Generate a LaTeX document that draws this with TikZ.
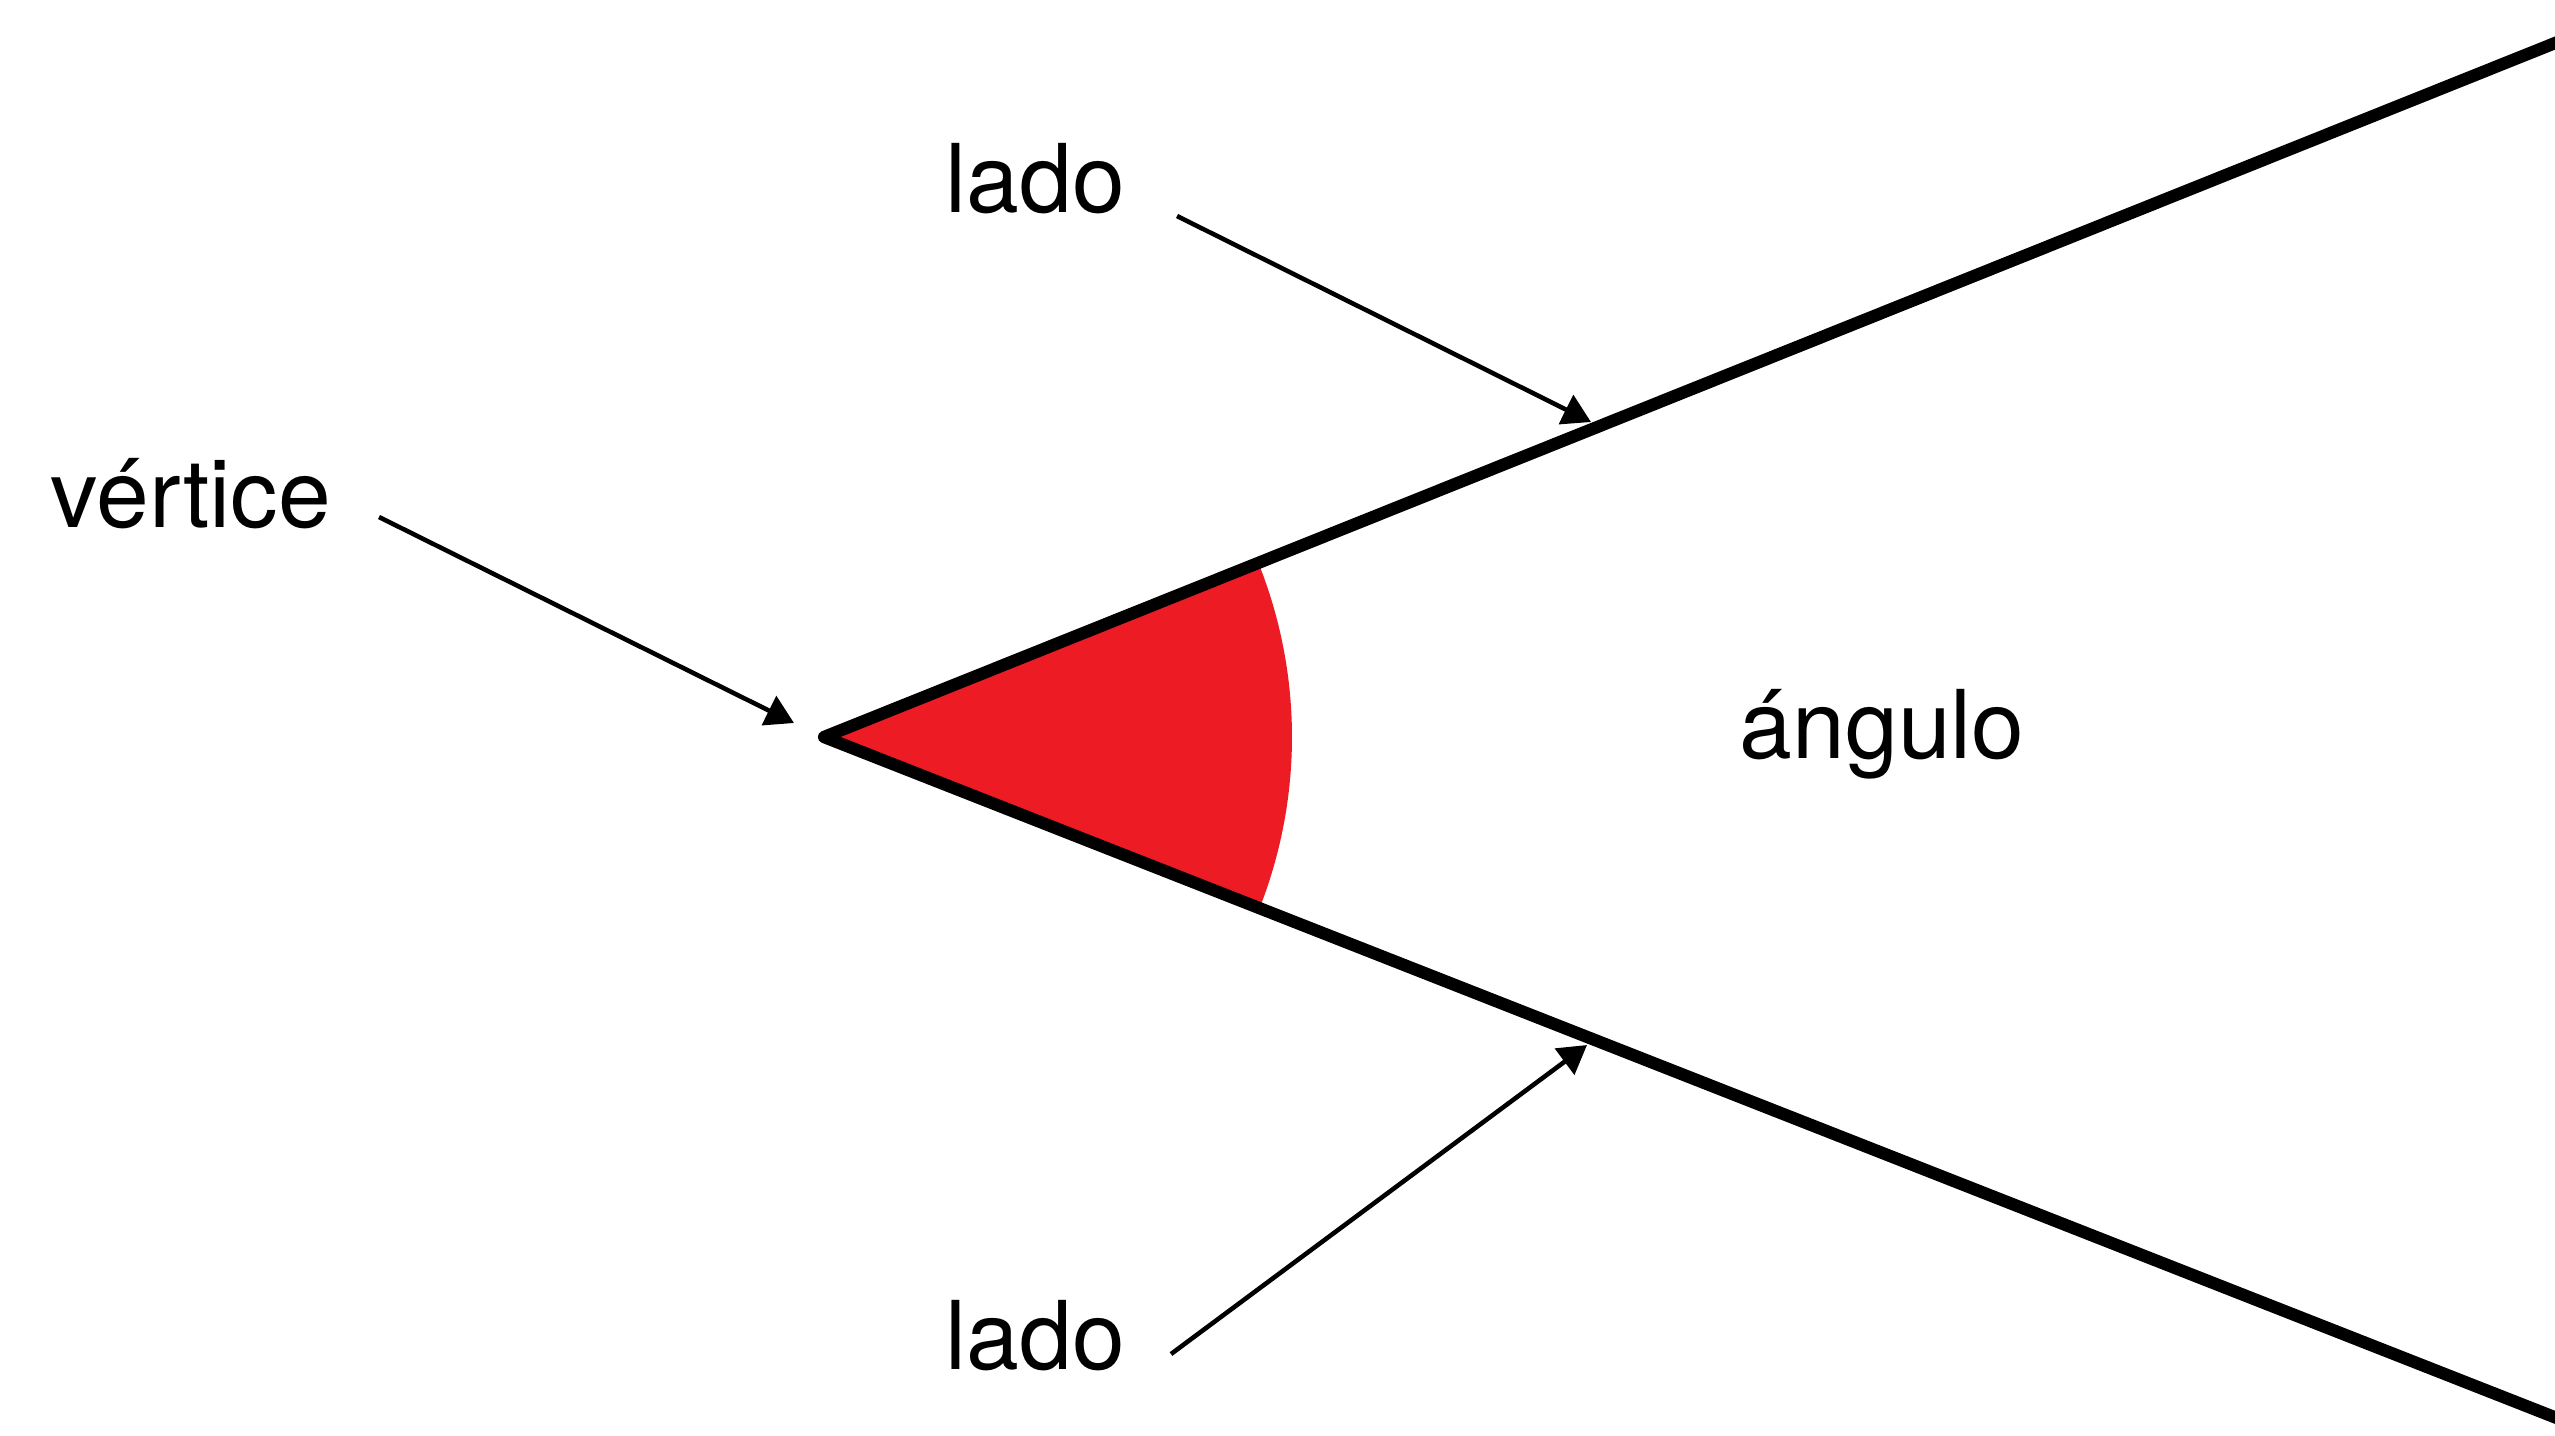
\documentclass[tikz,border=0pt]{standalone}
\usepackage{fontspec}
\setmainfont{TeX Gyre Heros}
\usetikzlibrary{arrows.meta}
\definecolor{angred}{HTML}{ED1C24}

\begin{document}
\begin{tikzpicture}[x=.1mm,y=-.1mm,
  lbl/.style={anchor=base west,inner sep=0pt,font=\fontsize{27}{30}\selectfont},
  ray/.style={line width=3.5pt,line join=round},
  pointer/.style={line width=1.3pt,-{Triangle[length=2.8mm,width=3.2mm]}}]
\path[use as bounding box] (0,0) rectangle (2555,1435);
\begin{scope}
\clip (0,0) rectangle (2555,1435);
\coordinate (O) at (824,737);
\coordinate (A) at (2600,25);
\coordinate (B) at (2600,1435);
\fill[angred] (O) -- ++(-21.85:468) arc[start angle=-21.85,end angle=21.45,radius=468] -- cycle;
\draw[ray] (A)--(O)--(B);
\end{scope}
\node[lbl] (vert) at (50,527) {vértice};
\node[lbl] (ladoA) at (945,212) {lado};
\node[lbl] (ladoB) at (945,1369) {lado};
\node[lbl] (ang) at (1739,758) {ángulo};
\coordinate (vtail) at (379,517);
\coordinate (atail) at (1177,216);
\coordinate (btail) at (1171,1354);
\coordinate (vhead) at (794,723);
\coordinate (ahead) at (1591,422);
\coordinate (bhead) at (1587,1045);
\draw[pointer] (vtail) -- (vhead);
\draw[pointer] (atail) -- (ahead);
\draw[pointer] (btail) -- (bhead);
\end{tikzpicture}
\end{document}
